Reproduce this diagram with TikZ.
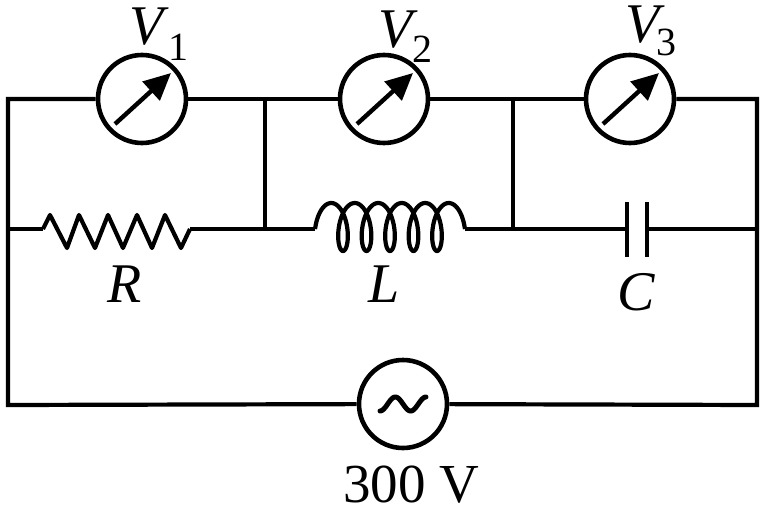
\documentclass[tikz,border=0pt]{standalone}
\usepackage{fontspec}
\setmainfont{Liberation Serif}
\usetikzlibrary{arrows.meta}
\begin{document}
\begin{tikzpicture}[x=1pt,y=-1pt, line width=4.2pt,
  meter/.style={circle, draw, line width=4.6pt, minimum size=88pt, inner sep=0pt},
  plate/.style={line width=4.6pt},
  needle/.style={line width=4.4pt, -{Triangle[length=27pt,width=25pt]}},
  lbl/.style={inner sep=0pt, anchor=base west, font=\fontsize{56}{60}\selectfont\itshape},
  sublbl/.style={inner sep=0pt, anchor=base west, font=\fontsize{40}{44}\selectfont},
  vlbl/.style={inner sep=0pt, anchor=base, font=\fontsize{55}{60}\selectfont}]
\useasboundingbox (0,0) rectangle (769,506);
% junction coordinates
\coordinate (TL) at (8,99);
\coordinate (J1t) at (265,99);
\coordinate (J2t) at (513,99);
\coordinate (TR) at (757,99);
\coordinate (ML) at (8,229);
\coordinate (J1) at (265,229);
\coordinate (J2) at (513,229);
\coordinate (MR) at (757,229);
\coordinate (BL) at (8,405);
\coordinate (BR) at (757,405);
\coordinate (Ra) at (43,229);
\coordinate (Rb) at (190,229);
\coordinate (La) at (315,229);
\coordinate (Lb) at (465,229);
\coordinate (Ca) at (627,229);
\coordinate (Cb) at (647,229);
% meters and source
\node[meter] (M1) at (142,99) {};
\node[meter] (M2) at (384,99) {};
\node[meter] (M3) at (630,99) {};
\node[meter] (S) at (403,404) {};
% wires
\draw (M1) -- (TL) -- (BL) -- (S);
\draw (S) -- (BR) -- (TR) -- (M3);
\draw (M1) -- (J1t) -- (M2);
\draw (M2) -- (J2t) -- (M3);
\draw (J1t) -- (J1);
\draw (J2t) -- (J2);
\draw (ML) -- (Ra);
\draw (Rb) -- (J1) -- (La);
\draw (Lb) -- (J2) -- (Ca);
\draw (Cb) -- (MR);
% resistor
\draw[line join=round] (Ra) -- (50,215) -- (67,248) -- (79,215) -- (95,248) -- (108,215) -- (123,248)
  -- (137,215) -- (152,248) -- (165,215) -- (181,248) -- (Rb);
% inductor
\draw[line join=round] (La) -- plot[domain=-4.712:29.845, samples=300, variable=\t]
  ({343+3.74*\t-10*sin(\t r)},{227+24*cos(\t r)}) -- (Lb);
% capacitor
\draw[plate] ([yshift=27pt]Ca) -- ([yshift=-28pt]Ca);
\draw[plate] ([yshift=27pt]Cb) -- ([yshift=-28pt]Cb);
% needles
\draw[needle] ([shift={(-27,25)}]M1.center) -- ([shift={(29,-26)}]M1.center);
\draw[needle] ([shift={(-27,25)}]M2.center) -- ([shift={(29,-26)}]M2.center);
\draw[needle] ([shift={(-27,25)}]M3.center) -- ([shift={(29,-26)}]M3.center);
% tilde
\draw[shift={(S.center)}, line cap=round, line width=5pt] plot[domain=-90:450, samples=80, variable=\u]
  ({(\u-180)/540*46},{0-7*sin(\u)});
% labels
\node[lbl] (V1) at (127,45) {V};
\node[sublbl] (s1) at (166,60) {1};
\node[lbl] (V2) at (376,47) {V};
\node[sublbl] (s2) at (410,62) {2};
\node[lbl] (V3) at (623,42) {V};
\node[sublbl] (s3) at (654,55) {3};
\node[lbl] (Rl) at (105,302) {R};
\node[lbl] (Ll) at (366,302) {L};
\node[lbl] (Cl) at (615,310) {C};
\node[vlbl] (Sl) at (411,502) {300 V};
\end{tikzpicture}
\end{document}
